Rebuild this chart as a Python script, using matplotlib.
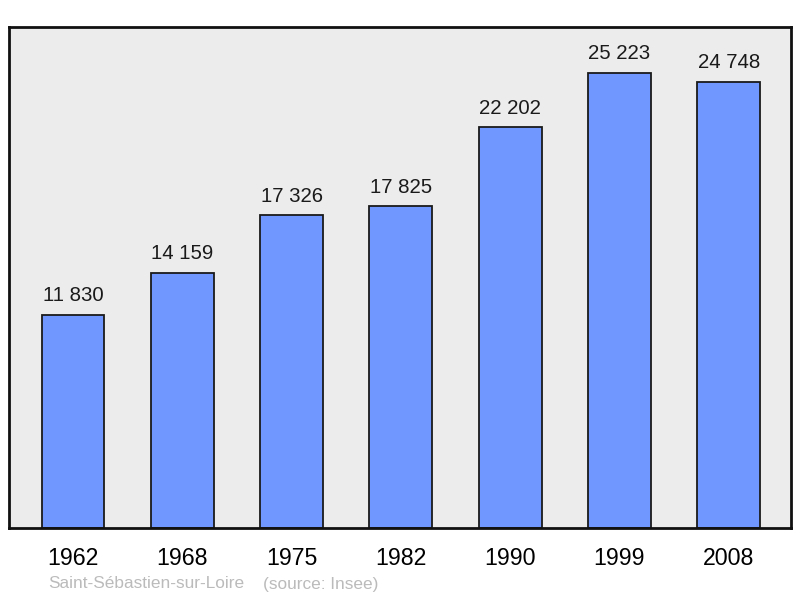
import matplotlib.pyplot as plt

years = ["1962", "1968", "1975", "1982", "1990", "1999", "2008"]
population = [11830, 14159, 17326, 17825, 22202, 25223, 24748]
labels = ["11 830", "14 159", "17 326", "17 825", "22 202", "25 223", "24 748"]

plt.rcParams['font.family'] = ['Liberation Sans', 'DejaVu Sans']

fig = plt.figure(figsize=(8, 5.98), dpi=100)
ax = fig.add_axes([9 / 800, 70 / 598, 782 / 800, 501 / 598])
ax.set_facecolor('#ececec')

x = range(len(years))
ax.bar(x, population, width=0.575, color='#7096ff', edgecolor='#1a1a1a', linewidth=1.3)

for xi, v, lab in zip(x, population, labels):
    ax.annotate(lab, (xi, v), xytext=(0, 7), textcoords='offset points',
                ha='center', va='bottom', fontsize=14.7, color='#1a1a1a')

ax.set_xlim(-0.585, 6.57)
ax.set_ylim(0, 27770)
ax.set_xticks(list(x))
ax.set_xticklabels(years, fontsize=16.7)
ax.tick_params(axis='x', length=0, pad=14)
ax.set_yticks([])
for s in ax.spines.values():
    s.set_linewidth(2)
    s.set_color('#111111')

fig.text(48 / 800, 1 - 584 / 598, "Saint-Sébastien-sur-Loire", fontsize=12.4,
         color='#bbbbbb', va='center', ha='left')
fig.text(263 / 800, 1 - 584 / 598, "(source: Insee)", fontsize=12.4,
         color='#bbbbbb', va='center', ha='left')

fig.savefig("out.png", dpi=100)
